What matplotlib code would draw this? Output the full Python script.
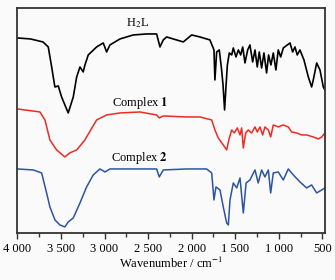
import matplotlib
matplotlib.use('Agg')
from matplotlib import pyplot as plt
from matplotlib.ticker import MultipleLocator, FuncFormatter

# IR spectra of H2L and the two complexes (offset, arbitrary units)
wn_h2l = [4000, 3850, 3707, 3646, 3607, 3570, 3531, 3493, 3417, 3359, 3320, 3282, 3245, 3225,
          3187, 3091, 3015, 2976, 2938, 2823, 2670, 2517, 2402, 2364, 2326, 2288, 2096, 2000,
          1905, 1790, 1744, 1733, 1713, 1683, 1656, 1640, 1622, 1605, 1590, 1568, 1540, 1522,
          1491, 1464, 1437, 1414, 1388, 1357, 1331, 1300, 1273, 1247, 1224, 1197, 1170, 1140,
          1117, 1090, 1063, 1033, 1006, 978, 948, 902, 871, 841, 814, 788, 757, 711,
          661, 623, 604, 565, 527, 489, 470]
t_h2l = [197, 196, 193, 188, 168, 148, 149, 138, 122, 138, 158, 168, 163, 170,
         180, 188, 192, 183, 190, 196, 200, 201, 201, 188, 195, 198, 193, 200,
         198, 195, 185, 155, 183, 185, 165, 150, 125, 150, 170, 182, 180, 187,
         178, 185, 180, 188, 172, 185, 190, 173, 185, 168, 183, 167, 182, 162,
         180, 170, 182, 165, 185, 178, 187, 190, 192, 183, 188, 180, 185, 175,
         158, 148, 155, 172, 165, 148, 145]

wn_c1 = [4000, 3742, 3684, 3627, 3550, 3455, 3400, 3320, 3225, 3206, 3091, 2976, 2823, 2594,
         2402, 2372, 2326, 2058, 1905, 1770, 1733, 1695, 1637, 1598, 1568, 1540, 1510, 1476,
         1445, 1426, 1407, 1380, 1350, 1312, 1273, 1247, 1216, 1185, 1159, 1120, 1093, 1063,
         1006, 948, 891, 852, 795, 738, 680, 604, 546, 507, 470]
t_c1 = [126, 123, 115, 95, 85, 78, 82, 85, 95, 98, 115, 120, 122, 123,
        120, 117, 119, 118, 118, 115, 105, 97, 90, 85, 97, 105, 102, 107,
        100, 107, 87, 102, 105, 102, 108, 103, 108, 100, 108, 105, 98, 110,
        108, 110, 108, 103, 102, 100, 100, 98, 96, 98, 102]

wn_c2 = [4000, 3818, 3722, 3665, 3627, 3569, 3512, 3455, 3417, 3359, 3282, 3206, 3130, 3053,
         2995, 2938, 2670, 2402, 2372, 2326, 2058, 1828, 1770, 1744, 1721, 1675, 1637, 1598,
         1579, 1560, 1522, 1483, 1445, 1407, 1375, 1331, 1273, 1236, 1197, 1159, 1120, 1093,
         1063, 1006, 948, 891, 833, 757, 680, 623, 565, 507, 470]
t_c2 = [66, 65, 62, 42, 28, 15, 10, 8, 13, 17, 32, 48, 60, 66,
        63, 66, 66, 66, 58, 65, 66, 66, 62, 35, 48, 45, 28, 12,
        10, 35, 52, 47, 57, 22, 52, 55, 65, 52, 65, 58, 65, 42,
        62, 63, 55, 66, 60, 53, 47, 50, 42, 45, 47]

plt.rcParams['font.family'] = ['Liberation Serif', 'DejaVu Serif']
plt.rcParams['mathtext.fontset'] = 'stix'

fig = plt.figure(figsize=(3.35, 2.8), dpi=100, facecolor='#fafafa')
ax = fig.add_axes([0.052, 0.168, 0.918, 0.8036])
ax.set_facecolor('#fafafa')

ax.plot(wn_h2l, t_h2l, color='black', lw=1.2)
ax.plot(wn_c1, t_c1, color='#ee2a24', lw=1.1)
ax.plot(wn_c2, t_c2, color='#2b54a5', lw=1.1)

ax.text(2617, 212, 'H$_2$L', ha='center', va='center', fontsize=9)
ax.text(2594, 132, 'Complex $\\mathbf{1}$', ha='center', va='center', fontsize=9)
ax.text(2594, 77, 'Complex $\\mathbf{2}$', ha='center', va='center', fontsize=9)

ax.set_xlim(4000, 470)
ax.set_ylim(2, 227)
ax.set_yticks([])
ax.xaxis.set_major_locator(MultipleLocator(500))
ax.xaxis.set_minor_locator(MultipleLocator(250))
ax.xaxis.set_major_formatter(FuncFormatter(lambda v, p: f'{int(v):,}'.replace(',', ' ')))
ax.tick_params(axis='x', which='major', direction='out', length=4, width=1, labelsize=9, pad=3, color='#333333')
ax.tick_params(axis='x', which='minor', direction='out', length=3, width=1, color='#333333')
for s in ax.spines.values():
    s.set_color('#333333')
    s.set_linewidth(1.3)
ax.set_xlabel('Wavenumber / cm$^{-1}$', fontsize=9, labelpad=1)

fig.savefig('out.png', dpi=100, facecolor=fig.get_facecolor())
